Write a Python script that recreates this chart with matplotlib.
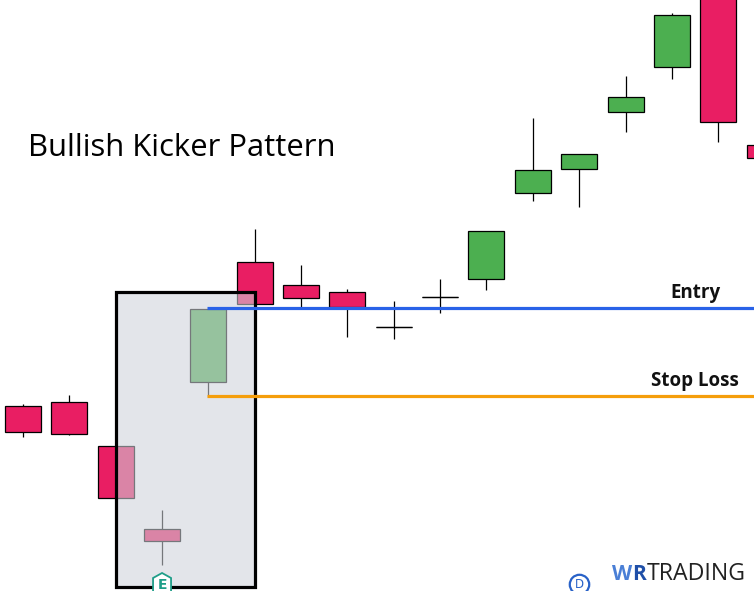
import numpy as np
import matplotlib
matplotlib.use("Agg")
import matplotlib.pyplot as plt
from matplotlib.patches import Rectangle, Polygon

# price scale = picture height, candles
opens  = [185, 189, 145, 62, 209, 329, 306, 299, 264, 294, 312, 398, 422, 479, 524, 601, 446]
closes = [159, 157, 93, 50, 282, 287, 293, 284, 264, 294, 360, 421, 437, 494, 576, 469, 433]
highs  = [187, 196, 145, 81, 282, 362, 326, 302, 290, 312, 360, 473, 437, 515, 578, 601, 446]
lows   = [154, 156, 93, 26, 194, 287, 283, 254, 252, 278, 301, 390, 384, 459, 512, 449, 433]

entry_price = 283
stop_price = 195

GREEN = "#4caf50"
RED = "#e91e63"
PX = 1 / 46.35  # one pixel in candle units

opens = np.array(opens)
closes = np.array(closes)
highs = np.array(highs)
lows = np.array(lows)
idx = np.arange(len(opens))

fig = plt.figure(figsize=(7.54, 5.91), dpi=100)
ax = fig.add_axes([0, 0, 1, 1])
ax.set_xlim(-23 * PX, 731 * PX)
ax.set_ylim(0, 591)
ax.axis("off")


def xpos(px):
    return (px - 23) * PX


colors = [GREEN if c > o else RED for o, c in zip(opens, closes)]
ax.vlines(idx, lows, highs, color="black", lw=0.9, zorder=2)
ax.bar(idx, np.abs(closes - opens), bottom=np.minimum(opens, closes), width=36 * PX,
       color=colors, edgecolor="black", lw=0.9, zorder=3)
# doji candles
for i in idx[opens == closes]:
    ax.hlines(opens[i], i - 18 * PX, i + 18 * PX, color="black", lw=0.9, zorder=3)

# shaded box over the kicker candles
box_x, box_w = xpos(116), 139 * PX
ax.add_patch(Rectangle((box_x, 4), box_w, 295, fc="#cfd2da", alpha=0.57, ec="none", zorder=4))
ax.add_patch(Rectangle((box_x, 4), box_w, 295, fc="none", ec="black", lw=2.3, zorder=5))

ax.hlines(entry_price, xpos(207), xpos(754), color="#2962e8", lw=2.3, zorder=6)
ax.hlines(stop_price, xpos(207), xpos(754), color="#f59e0b", lw=2.3, zorder=6)

ax.text(xpos(28), 443, "Bullish Kicker Pattern", fontsize=22.3, family="Open Sans",
        color="black", va="center", ha="left", zorder=7)
ax.text(xpos(695), 298, "Entry", fontsize=13.5, family="Open Sans", fontweight="bold",
        color="#111111", va="center", ha="center", zorder=7)
ax.text(xpos(695), 210, "Stop Loss", fontsize=13.5, family="Open Sans", fontweight="bold",
        color="#111111", va="center", ha="center", zorder=7)

# E marker under the small candle
hx = 3
ax.add_patch(Polygon([(hx - 9 * PX, 13), (hx, 18), (hx + 9 * PX, 13),
                      (hx + 9 * PX, -5), (hx - 9 * PX, -5)],
                     fc="white", ec="#1f9e89", lw=1.3, zorder=8))
ax.text(hx, 6, "E", fontsize=10, fontweight="bold", color="#1f9e89", family="DejaVu Sans",
        ha="center", va="center", zorder=9)

# D marker and logo, bottom right
dx = xpos(579)
ax.plot([dx], [7], marker="o", ms=14, mfc="white", mec="#2962c8", mew=1.6, zorder=8)
ax.text(dx, 7, "D", fontsize=8.5, color="#2962c8", ha="center", va="center", zorder=9)
ax.text(xpos(612), 17, "W", fontsize=15, fontweight="bold", family="Open Sans",
        color="#4a7fd6", ha="left", va="center", zorder=8)
ax.text(xpos(632.5), 17, "R", fontsize=15, fontweight="bold", family="Open Sans",
        color="#1f4fa8", ha="left", va="center", zorder=8)
ax.text(xpos(646.5), 17, "TRADING", fontsize=16.7, family="Open Sans",
        color="#222222", ha="left", va="center", zorder=8)

fig.savefig("out.png", dpi=100, facecolor="white")
